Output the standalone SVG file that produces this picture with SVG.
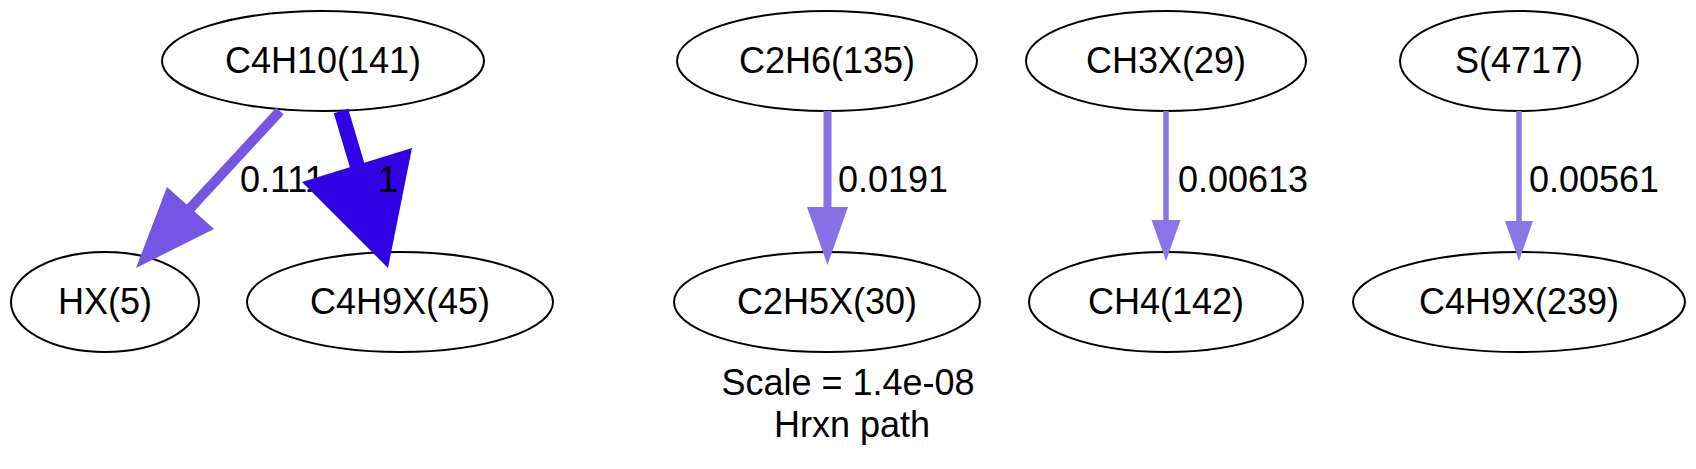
<svg xmlns="http://www.w3.org/2000/svg" width="1696" height="469" viewBox="0 0 1696 469">
<style>
.node ellipse{fill:none;stroke:#000;stroke-width:2}
text{font-family:"Liberation Sans",Arial,Helvetica,sans-serif;font-size:36px;fill:#000}
.n{text-anchor:middle}
.e{fill:none}
</style>
<rect width="1696" height="469" fill="#fff"/>
<g id="n_C4H10" class="node"><ellipse cx="323" cy="61" rx="161" ry="50"/><text class="n" x="323" y="73">C4H10(141)</text></g>
<g id="n_HX" class="node"><ellipse cx="105" cy="302" rx="94" ry="50"/><text class="n" x="105" y="314">HX(5)</text></g>
<g id="n_C4H9X45" class="node"><ellipse cx="400" cy="302" rx="153" ry="50"/><text class="n" x="400" y="314">C4H9X(45)</text></g>
<g id="n_C2H6" class="node"><ellipse cx="827" cy="61" rx="150" ry="50"/><text class="n" x="827" y="73">C2H6(135)</text></g>
<g id="n_C2H5X" class="node"><ellipse cx="827" cy="302" rx="153" ry="50"/><text class="n" x="827" y="314">C2H5X(30)</text></g>
<g id="n_CH3X" class="node"><ellipse cx="1166" cy="61" rx="140" ry="50"/><text class="n" x="1166" y="73">CH3X(29)</text></g>
<g id="n_CH4" class="node"><ellipse cx="1166" cy="302" rx="137" ry="50"/><text class="n" x="1166" y="314">CH4(142)</text></g>
<g id="n_S4717" class="node"><ellipse cx="1519" cy="61" rx="119" ry="50"/><text class="n" x="1519" y="73">S(4717)</text></g>
<g id="n_C4H9X239" class="node"><ellipse cx="1519" cy="302" rx="166" ry="50"/><text class="n" x="1519" y="314">C4H9X(239)</text></g>
<g id="connectors">
<g id="e1"><path class="e" d="M280,111 L184,215" stroke="#7556e3" stroke-width="10"/><polygon points="167,187 214,229 136,268" fill="#7556e3"/><text x="240" y="192">0.111</text></g>
<g id="e2"><path class="e" d="M341,111 L360,175" stroke="#3100e4" stroke-width="15"/><polygon points="302,182 412,148 388,268" fill="#3100e4"/><text x="378" y="192">1</text></g>
<g id="e3"><path class="e" d="M827.5,111 L827.5,212" stroke="#8870e5" stroke-width="8"/><polygon points="807,207 848,207 827.5,265" fill="#8870e5"/><text x="838" y="192">0.0191</text></g>
<g id="e4"><path class="e" d="M1166,111 L1166,224" stroke="#8b75e6" stroke-width="5.5"/><polygon points="1151.5,220 1180.5,220 1166,261" fill="#8b75e6"/><text x="1178" y="192">0.00613</text></g>
<g id="e5"><path class="e" d="M1519,111 L1519,225" stroke="#8b76e6" stroke-width="5.5"/><polygon points="1505,221 1533,221 1519,261" fill="#8b76e6"/><text x="1529" y="192">0.00561</text></g>
</g>
<text class="n" x="848" y="395">Scale = 1.4e-08</text>
<text class="n" x="852" y="437">Hrxn path</text>
</svg>
